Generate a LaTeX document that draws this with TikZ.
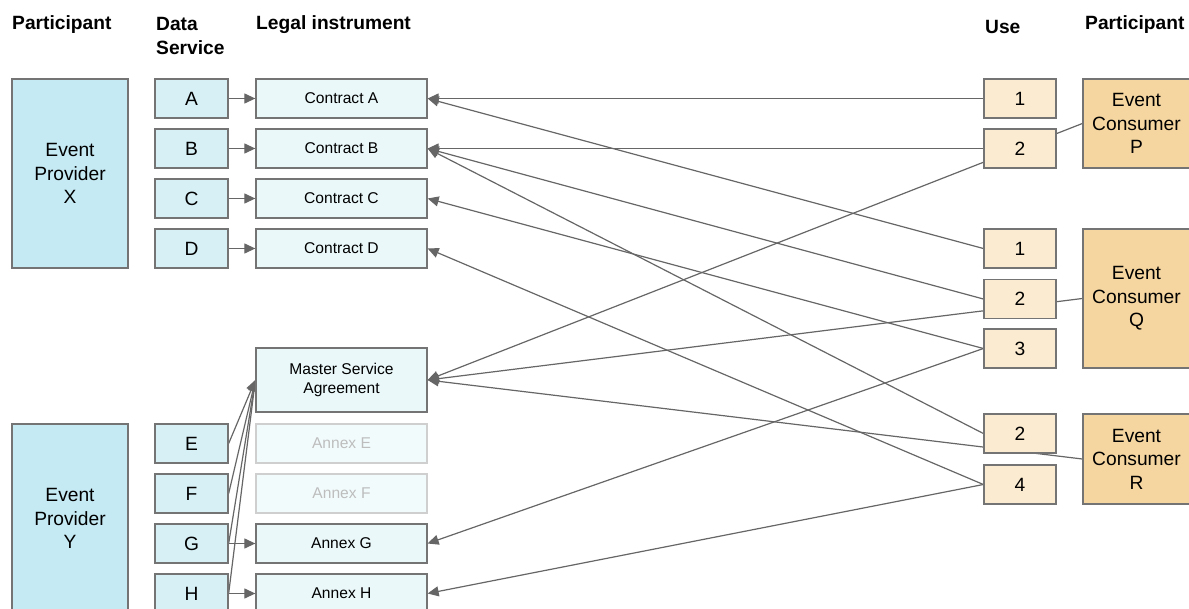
\documentclass[tikz,border=0pt]{standalone}
\usepackage{fontspec}
\setmainfont{Liberation Sans}
\usetikzlibrary{arrows.meta}
\usetikzlibrary{backgrounds}

\definecolor{providerfill}{HTML}{C5EAF3}
\definecolor{servicefill}{HTML}{D7F0F5}
\definecolor{legalfill}{HTML}{EAF8FA}
\definecolor{usefill}{HTML}{FBEBD0}
\definecolor{consumerfill}{HTML}{F5D6A0}
\definecolor{edgegray}{HTML}{747474}
\definecolor{linkgray}{HTML}{666666}
\definecolor{fadeedge}{HTML}{CFCFCF}
\definecolor{fadetext}{HTML}{BDBDBD}

\tikzset{
    box/.style={draw=edgegray, line width=1.3pt, inner sep=0pt, align=center,
        font=\fontsize{19.2}{23.5}\selectfont},
    provider/.style={box, fill=providerfill, minimum width=116pt, minimum height=189pt},
    service/.style={box, fill=servicefill, minimum width=73pt, minimum height=39pt},
    legal/.style={box, fill=legalfill, minimum width=171pt, minimum height=39pt,
        font=\fontsize{15.6}{19}\selectfont},
    faded/.style={legal, draw=fadeedge, fill=legalfill!60!white, text=fadetext},
    usebox/.style={box, fill=usefill, minimum width=72pt, minimum height=39pt},
    consumer/.style={box, fill=consumerfill, minimum width=107pt},
    header/.style={anchor=west, inner sep=0pt, align=left,
        font=\fontsize{19.2}{24}\selectfont\bfseries},
    link/.style={draw=linkgray, line width=1.2pt, -{Triangle[length=11pt,width=10pt]}}
}

\begin{document}
\begin{tikzpicture}[x=1pt,y=-1pt]

            \clip (0,0) rectangle (1189,609);

            % headers

            \node[header] (hpart) at (12, 25) {Participant};
            \node[header] (hdata) at (156, 35.5) {Data\\Service};
            \node[header] (hlegal) at (256, 25) {Legal instrument};
            \node[header] (huse) at (985, 26.5) {Use};
            \node[header] (hpart2) at (1085, 25) {Participant};

            % providers

            \node[provider] (provX) at (70, 173.5) {Event\\Provider\\X};
            \node[provider] (provY) at (70, 518.5) {Event\\Provider\\Y};

            % data services

            \node[service] (svcA) at (191.5, 98.5) {A};
            \node[service] (svcB) at (191.5, 148.5) {B};
            \node[service] (svcC) at (191.5, 198.5) {C};
            \node[service] (svcD) at (191.5, 248.5) {D};
            \node[service] (svcE) at (191.5, 443.5) {E};
            \node[service] (svcF) at (191.5, 493.5) {F};
            \node[service] (svcG) at (191.5, 543.5) {G};
            \node[service] (svcH) at (191.5, 593.5) {H};

            % legal instruments

            \node[legal] (conA) at (341.5, 98.5) {Contract A};
            \node[legal] (conB) at (341.5, 148.5) {Contract B};
            \node[legal] (conC) at (341.5, 198.5) {Contract C};
            \node[legal] (conD) at (341.5, 248.5) {Contract D};
            \node[legal, minimum height=64pt] (msa) at (341.5, 380) {Master Service\\Agreement};
            \node[faded] (annE) at (341.5, 443.5) {Annex E};
            \node[faded] (annF) at (341.5, 493.5) {Annex F};
            \node[legal] (annG) at (341.5, 543.5) {Annex G};
            \node[legal] (annH) at (341.5, 593.5) {Annex H};

            % uses

            \node[usebox] (useP1) at (1020, 98.5) {1};
            \node[usebox] (useP2) at (1020, 148.5) {2};
            \node[usebox] (useQ1) at (1020, 248.5) {1};
            \node[usebox] (useQ2) at (1020, 299) {2};
            \node[usebox] (useQ3) at (1020, 348.5) {3};
            \node[usebox] (useR2) at (1020, 433.5) {2};
            \node[usebox] (useR4) at (1020, 484.5) {4};

            % consumers

            \node[consumer, minimum height=89pt] (consP) at (1136.5, 123.5) {Event\\Consumer\\P};
            \node[consumer, minimum height=139pt] (consQ) at (1136.5, 298.5) {Event\\Consumer\\Q};
            \node[consumer, minimum height=90pt] (consR) at (1136.5, 459) {Event\\Consumer\\R};

            % connectors

            \begin{scope}[on background layer]
            \draw[link] (svcA.east) -- (conA.west);
            \draw[link] (svcB.east) -- (conB.west);
            \draw[link] (svcC.east) -- (conC.west);
            \draw[link] (svcD.east) -- (conD.west);
            \draw[link] (svcG.east) -- (annG.west);
            \draw[link] (svcH.east) -- (annH.west);

            \draw[link] (svcE.east) -- (msa.west);
            \draw[link] (svcF.east) -- (msa.west);
            \draw[link] (svcG.east) -- (msa.west);
            \draw[link] (svcH.east) -- (msa.west);

            \draw[link] (useP1.west) -- (conA.east);
            \draw[link] (useQ1.west) -- (conA.east);
            \draw[link] (useP2.west) -- (conB.east);
            \draw[link] (useQ2.west) -- (conB.east);
            \draw[link] (useR2.west) -- (conB.east);
            \draw[link] (useQ3.west) -- (conC.east);
            \draw[link] (useR4.west) -- (conD.east);
            \draw[link] (useQ3.west) -- (annG.east);
            \draw[link] (useR4.west) -- (annH.east);

            \draw[link] (consP.west) -- (msa.east);
            \draw[link] (consQ.west) -- (msa.east);
            \draw[link] (consR.west) -- (msa.east);
            \end{scope}
        \end{tikzpicture}
\end{document}
